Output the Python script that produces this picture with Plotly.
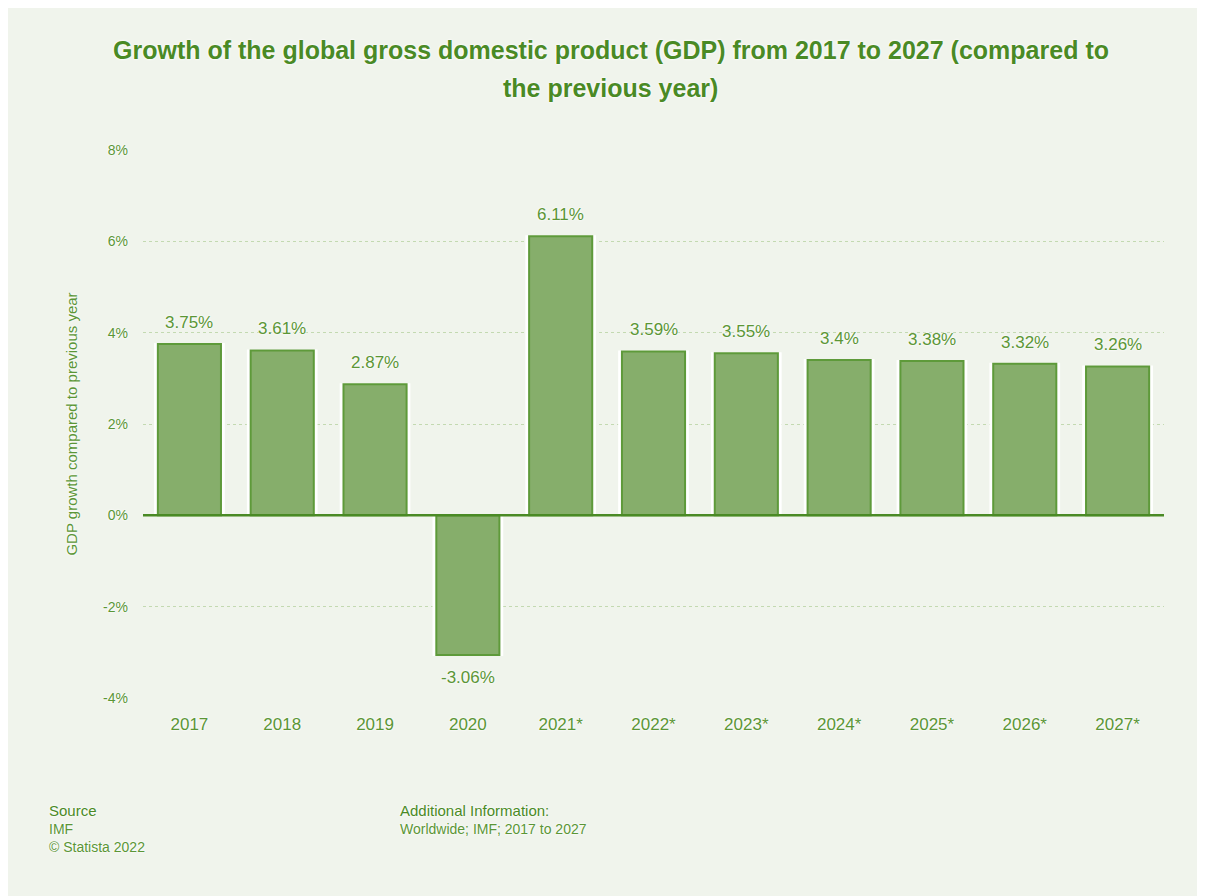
import plotly.graph_objects as go

years = ["2017", "2018", "2019", "2020", "2021*", "2022*", "2023*", "2024*", "2025*", "2026*", "2027*"]
growth = [3.75, 3.61, 2.87, -3.06, 6.11, 3.59, 3.55, 3.4, 3.38, 3.32, 3.26]
labels = [f"{v:g}%" for v in growth]
y_ticks = [-4, -2, 0, 2, 4, 6, 8]
y_tick_text = [f"{t}%" for t in y_ticks]

GREEN = "#4a8a25"
TXT = "#5b9636"
FILL = "#86ae6b"
BG = "#f0f4ec"
GLOW = "0px 0px 3px #ffffff, 0px 0px 2px #ffffff"
FAM = "Liberation Sans, Arial"

# plot area in figure pixels (page is offset by the browser body margin)
L, T, W, H = 135, 142, 1021, 548


def px(x):
    return (x - L) / W


def py(y):
    return (T + H - y) / H


fig = go.Figure()
# white halo behind bars
fig.add_trace(go.Bar(
    x=years, y=growth, width=0.74,
    marker=dict(color="white", line=dict(color="white", width=2)),
    hoverinfo="skip", showlegend=False,
))
fig.add_trace(go.Bar(
    x=years, y=growth, width=0.68,
    marker=dict(color=FILL, line=dict(color="#5e9a3a", width=2)),
    showlegend=False,
))

for i, (v, t) in enumerate(zip(growth, labels)):
    fig.add_annotation(
        x=i, y=v, text=t, showarrow=False,
        yanchor="bottom" if v >= 0 else "top",
        yshift=10 if v >= 0 else -11,
        font=dict(size=17, color=TXT, family=FAM, shadow=GLOW),
    )

# zero line above the bars
fig.add_shape(type="line", xref="paper", yref="y", x0=0, x1=1, y0=0, y1=0,
              line=dict(color=GREEN, width=2.5), layer="above")

title_font = dict(size=25, color=GREEN, family=FAM, shadow=GLOW)
fig.add_annotation(xref="paper", yref="paper", x=(602.5 - L) / W, y=py(42),
                   xanchor="center", yanchor="middle", showarrow=False,
                   text="<b>Growth of the global gross domestic product (GDP) from 2017 to 2027 (compared to</b>",
                   font=title_font)
fig.add_annotation(xref="paper", yref="paper", x=(602.5 - L) / W, y=py(80),
                   xanchor="center", yanchor="middle", showarrow=False,
                   text="<b>the previous year)</b>", font=title_font)

foot_font = dict(size=14, color=TXT, family=FAM, shadow=GLOW)
head_font = dict(size=15, color=GREEN, family=FAM, shadow=GLOW)
footer = [
    (39, 802, "Source", head_font),
    (39, 821, "IMF", foot_font),
    (39, 839, "© Statista 2022", foot_font),
    (390, 802, "Additional Information:", head_font),
    (390, 821, "Worldwide; IMF; 2017 to 2027", foot_font),
]
for x, y, t, f in footer:
    fig.add_annotation(xref="paper", yref="paper", x=px(x), y=py(y),
                       xanchor="left", yanchor="middle", text=t,
                       showarrow=False, align="left", font=f)

fig.update_layout(
    width=1205, height=896,
    paper_bgcolor=BG, plot_bgcolor=BG,
    margin=dict(l=L, r=1205 - L - W, t=T, b=896 - T - H, autoexpand=False),
    barmode="overlay",
    font=dict(family=FAM, color=TXT, size=14),
    xaxis=dict(
        type="category", range=[-0.5, 10.5], showgrid=False, zeroline=False,
        showline=False, ticks="", ticklabelstandoff=14,
        tickfont=dict(size=17, color=TXT, shadow=GLOW),
    ),
    yaxis=dict(
        range=[-4, 8], tickvals=y_ticks, ticktext=y_tick_text,
        showgrid=True, gridcolor="#c3d9b1", griddash="dot", gridwidth=1,
        zeroline=False,
        ticks="", ticklabelstandoff=14,
        tickfont=dict(size=14, color=TXT, shadow=GLOW),
        title=dict(text="GDP growth compared to previous year", standoff=21,
                   font=dict(size=15, color=TXT, shadow=GLOW)),
    ),
)

fig.write_html("out.html")
